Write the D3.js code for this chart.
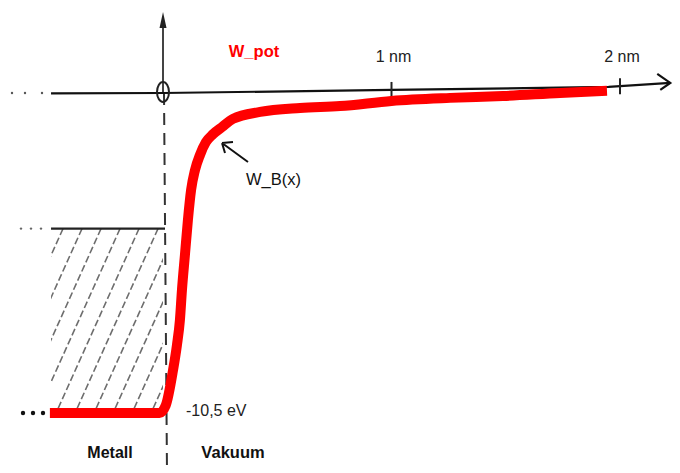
<!DOCTYPE html>
<html>
<head>
<meta charset="utf-8">
<script src="https://cdn.jsdelivr.net/npm/d3@7"></script>
<style>
  body { margin: 0; background: #fff; }
  text { font-family: "Liberation Sans", Arial, sans-serif; }
</style>
</head>
<body>
<div id="chart"></div>
<script>
// potential energy of an electron near a metal surface (x in nm, W in eV)
const curveX = [-0.495, -0.25, -0.015, 0.012, 0.044, 0.061, 0.074, 0.083, 0.096, 0.109, 0.123, 0.140, 0.162, 0.188, 0.219, 0.258, 0.306, 0.425, 0.60, 0.775, 1.0, 1.256, 1.488, 1.737, 1.943];
const curveW = [-10.5, -10.5, -10.5, -10.25, -9.09, -8.27, -7.45, -6.46, -5.31, -4.17, -3.18, -2.53, -2.03, -1.61, -1.35, -1.12, -0.85, -0.62, -0.49, -0.43, -0.26, -0.16, -0.10, 0.0, 0.07];
// the scanned x axis is drawn slightly tilted
const axisX = [-0.49, 0, 1, 1.95, 2.22];
const axisW = [-0.01, 0, 0.1, 0.2, 0.33];
const tickValues = [1, 2];
const tickLabels = ["1 nm", "2 nm"];
const metalLeft = -0.49;
const fermiLevel = -4.45;
const bottomLevel = -10.5;
const bottomLabel = "-10,5 eV";

const width = 680, height = 473;

const svg = d3.select("#chart").append("svg")
    .attr("width", width)
    .attr("height", height);

const x = d3.scaleLinear().domain([0, 2]).range([163, 620]);
const y = d3.scaleLinear().domain([0, -10.5]).range([93, 413]);

const axisY = d3.scaleLinear().domain(axisX).range(axisW);

// hatched metal region
svg.append("clipPath").attr("id", "metal")
  .append("rect")
    .attr("x", x(metalLeft))
    .attr("y", y(fermiLevel))
    .attr("width", x(0) - x(metalLeft))
    .attr("height", y(bottomLevel) - y(fermiLevel));

const hatch = svg.append("g").attr("clip-path", "url(#metal)");
const hh = y(bottomLevel) - y(fermiLevel);
for (let px = x(metalLeft) + 12; px < x(0) + hh * 0.45; px += 19) {
  hatch.append("line")
      .attr("x1", px).attr("y1", y(fermiLevel))
      .attr("x2", px - hh * 0.45).attr("y2", y(bottomLevel))
      .attr("stroke", "#6e6e6e")
      .attr("stroke-width", 1.6)
      .attr("stroke-dasharray", "7 3");
}

// fermi level line
svg.append("line")
    .attr("x1", x(metalLeft)).attr("y1", y(fermiLevel))
    .attr("x2", x(0) + 2).attr("y2", y(fermiLevel))
    .attr("stroke", "#222").attr("stroke-width", 2.2);

// leading dots on the left
const dots = [
  {w: 0, xs: [12, 25, 42], r: 1.2, c: "#555"},
  {w: fermiLevel, xs: [21, 31, 41], r: 1.2, c: "#666"},
  {w: bottomLevel, xs: [23, 33, 43], r: 2.2, c: "#111"}
];
dots.forEach(d => {
  svg.append("g").selectAll("circle").data(d.xs).join("circle")
      .attr("cx", v => v).attr("cy", y(d.w))
      .attr("r", d.r).attr("fill", d.c);
});

// dashed vertical line (metal surface)
svg.append("line")
    .attr("x1", x(0) + 1).attr("y1", y(0))
    .attr("x2", x(0) + 4).attr("y2", height)
    .attr("stroke", "#333").attr("stroke-width", 2)
    .attr("stroke-dasharray", "12 8");

// vertical axis with arrow
svg.append("line")
    .attr("x1", x(0)).attr("y1", y(0))
    .attr("x2", x(0)).attr("y2", 24)
    .attr("stroke", "#444").attr("stroke-width", 2);
svg.append("path")
    .attr("d", `M${x(0)},12 L${x(0) - 3.5},28 L${x(0) + 3.5},28 Z`)
    .attr("fill", "#222");

// horizontal axis
const axisLine = d3.line().x(d => x(d[0])).y(d => y(d[1]));
svg.append("path")
    .datum(axisX.map((v, i) => [v, axisW[i]]))
    .attr("d", axisLine)
    .attr("fill", "none")
    .attr("stroke", "#111").attr("stroke-width", 2.2);

const tipX = x(axisX[axisX.length - 1]), tipY = y(axisW[axisW.length - 1]);
svg.append("path")
    .attr("d", `M${tipX - 13},${tipY - 9} L${tipX},${tipY} L${tipX - 10},${tipY + 7}`)
    .attr("fill", "none")
    .attr("stroke", "#111").attr("stroke-width", 2.2);

// ticks
svg.append("g").selectAll("line").data(tickValues).join("line")
    .attr("x1", d => x(d)).attr("x2", d => x(d))
    .attr("y1", d => y(axisY(d)) - 8)
    .attr("y2", d => y(axisY(d)) + 8)
    .attr("stroke", "#222").attr("stroke-width", 2);

svg.append("g").selectAll("text").data(tickValues).join("text")
    .attr("x", d => x(d) + 2)
    .attr("y", 62)
    .attr("text-anchor", "middle")
    .attr("font-size", 16)
    .attr("fill", "#222")
    .text((d, i) => tickLabels[i]);

// origin ellipse
svg.append("ellipse")
    .attr("cx", x(0)).attr("cy", y(0) - 1)
    .attr("rx", 6).attr("ry", 10)
    .attr("fill", "none")
    .attr("stroke", "#222").attr("stroke-width", 2);

// potential curve
const line = d3.line()
    .x(d => x(d[0]))
    .y(d => y(d[1]))
    .curve(d3.curveMonotoneX);

svg.append("path")
    .datum(curveX.map((v, i) => [v, curveW[i]]))
    .attr("d", line)
    .attr("fill", "none")
    .attr("stroke", "#ff0000")
    .attr("stroke-width", 10)
    .attr("stroke-linejoin", "round");

// annotation arrow for W_B(x)
const ax1 = 248, ay1 = 162, ax2 = 222, ay2 = 143;
svg.append("path")
    .attr("d", `M${ax1},${ay1} L${ax2},${ay2} M${ax2},${ay2} L${ax2 + 11},${ay2 - 1} M${ax2},${ay2} L${ax2 + 3},${ay2 + 10}`)
    .attr("fill", "none")
    .attr("stroke", "#111").attr("stroke-width", 2);

// labels
svg.append("text")
    .attr("x", 254).attr("y", 57)
    .attr("text-anchor", "middle")
    .attr("font-size", 16.5).attr("font-weight", "bold")
    .attr("fill", "#ff0000")
    .text("W_pot");

svg.append("text")
    .attr("x", 246).attr("y", 185)
    .attr("font-size", 16.5)
    .attr("fill", "#111")
    .text("W_B(x)");

svg.append("text")
    .attr("x", x(0) + 23).attr("y", y(bottomLevel) + 3)
    .attr("font-size", 16)
    .attr("fill", "#222")
    .text(bottomLabel);

svg.append("text")
    .attr("x", 110).attr("y", 458)
    .attr("text-anchor", "middle")
    .attr("font-size", 16).attr("font-weight", "bold")
    .attr("fill", "#111")
    .text("Metall");

svg.append("text")
    .attr("x", 233).attr("y", 458)
    .attr("text-anchor", "middle")
    .attr("font-size", 16.5).attr("font-weight", "bold")
    .attr("fill", "#111")
    .text("Vakuum");
</script>
</body>
</html>
